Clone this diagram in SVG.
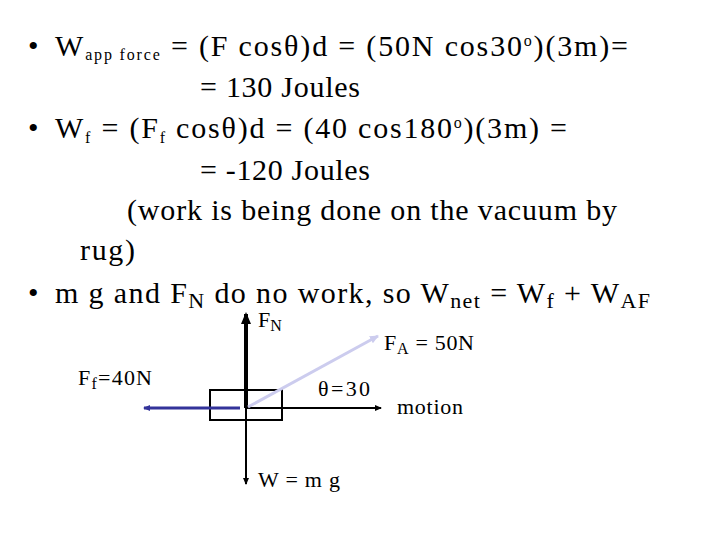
<svg xmlns="http://www.w3.org/2000/svg" width="720" height="540" viewBox="0 0 720 540">
<style>
text{font-family:"Liberation Serif","Times New Roman",serif;fill:#000}
.t{font-size:30px}
.s{font-size:16px}
.d{font-size:22px}
</style>
<defs>
<marker id="ab" markerWidth="8" markerHeight="8" refX="6" refY="4" orient="auto" markerUnits="userSpaceOnUse"><path d="M0,1L7,4L0,7z" fill="#000"/></marker>
<marker id="ak" markerWidth="14" markerHeight="14" refX="10" refY="7" orient="auto" markerUnits="userSpaceOnUse"><path d="M0,2L12,7L0,12z" fill="#000"/></marker>
<marker id="au" markerWidth="8" markerHeight="8" refX="6" refY="4" orient="auto" markerUnits="userSpaceOnUse"><path d="M0,1L7,4L0,7z" fill="#33339a"/></marker>
<marker id="al" markerWidth="10" markerHeight="10" refX="8" refY="5" orient="auto" markerUnits="userSpaceOnUse"><path d="M0,1L9,5L0,9z" fill="#ccccee"/></marker>
</defs>
<g id="text">
<text class="t" x="28" y="56">•</text>
<text class="t" x="55" y="56" textLength="573" lengthAdjust="spacing">W<tspan class="s" dy="4">app force</tspan><tspan dy="-4"> = (F cosθ)d = (50N cos30</tspan><tspan class="s" dy="-10">o</tspan><tspan dy="10">)(3m)=</tspan></text>
<text class="t" x="200" y="97" textLength="160" lengthAdjust="spacing">= 130 Joules</text>
<text class="t" x="28" y="138">•</text>
<text class="t" x="55" y="138" textLength="512" lengthAdjust="spacing">W<tspan class="s" dy="5">f</tspan><tspan dy="-5"> = (F</tspan><tspan class="s" dy="5">f</tspan><tspan dy="-5"> cosθ)d = (40 cos180</tspan><tspan class="s" dy="-10">o</tspan><tspan dy="10">)(3m) =</tspan></text>
<text class="t" x="200" y="180" textLength="170" lengthAdjust="spacing">= -120 Joules</text>
<text class="t" x="127" y="220" textLength="490" lengthAdjust="spacing">(work is being done on the vacuum by</text>
<text class="t" x="80" y="260" textLength="55" lengthAdjust="spacing">rug)</text>
<text class="t" x="28" y="303">•</text>
<text class="t" x="55" y="303" textLength="595" lengthAdjust="spacing">m g and F<tspan class="d" dy="5">N</tspan><tspan dy="-5"> do no work, so W</tspan><tspan class="d" dy="5">net</tspan><tspan dy="-5"> = W</tspan><tspan class="d" dy="5">f</tspan><tspan dy="-5"> + W</tspan><tspan class="d" dy="5">AF</tspan></text>
</g>
<g id="box"><rect x="210" y="390" width="72" height="30" fill="none" stroke="#000" stroke-width="2"/></g>
<g id="connectors">
<line x1="246" y1="408" x2="246" y2="484" stroke="#000" stroke-width="2" marker-end="url(#ab)"/>
<line x1="246" y1="408" x2="246" y2="314" stroke="#000" stroke-width="4" marker-end="url(#ak)"/>
<line x1="246" y1="408" x2="381" y2="408" stroke="#000" stroke-width="2" marker-end="url(#ab)"/>
<line x1="240" y1="408" x2="144" y2="408" stroke="#33339a" stroke-width="3" marker-end="url(#au)"/>
<line x1="248" y1="407" x2="378" y2="336" stroke="#ccccee" stroke-width="3" marker-end="url(#al)"/>
</g>
<g id="labels">
<text class="d" x="258" y="327">F<tspan class="s" dy="4">N</tspan></text>
<text class="d" x="384" y="350" textLength="90" lengthAdjust="spacing">F<tspan class="s" dy="4">A</tspan><tspan dy="-4"> = 50N</tspan></text>
<text class="d" x="78" y="385" textLength="74" lengthAdjust="spacing">F<tspan class="s" dy="4">f</tspan><tspan dy="-4">=40N</tspan></text>
<text class="d" x="318" y="396" textLength="52" lengthAdjust="spacing">θ=30</text>
<text class="d" x="397" y="414" textLength="66" lengthAdjust="spacing">motion</text>
<text class="d" x="258" y="487" textLength="82" lengthAdjust="spacing">W = m g</text>
</g>
</svg>
